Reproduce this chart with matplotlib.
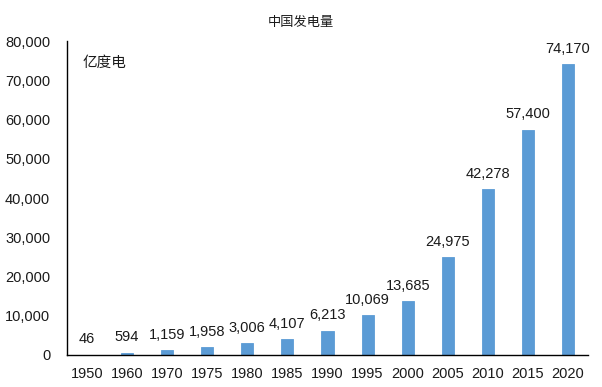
import matplotlib
matplotlib.use("Agg")
import matplotlib.pyplot as plt
from matplotlib.ticker import FuncFormatter

years = ["1950", "1960", "1970", "1975", "1980", "1985", "1990", "1995",
         "2000", "2005", "2010", "2015", "2020"]
values = [46, 594, 1159, 1958, 3006, 4107, 6213, 10069, 13685, 24975,
          42278, 57400, 74170]

plt.rcParams['font.family'] = ['Liberation Sans', 'Noto Sans CJK SC', 'DejaVu Sans']

fig = plt.figure(figsize=(6.02, 3.87), dpi=100)
ax = fig.add_axes([0.111, 0.0827, 0.866, 0.811])

x = list(range(len(years)))
ax.bar(x, values, width=0.3, color="#5B9BD5", edgecolor="#5B9BD5", linewidth=0.6)
for xi, v in zip(x, values):
    ax.annotate(f"{v:,}", (xi, v), xytext=(0, 6), textcoords="offset points",
                ha="center", va="bottom", fontsize=10.5, color="#1a1a1a")

ax.set_xlim(-0.5, len(years) - 0.5)
ax.set_ylim(0, 80000)
ax.set_yticks(range(0, 80001, 10000))
ax.yaxis.set_major_formatter(FuncFormatter(lambda v, p: f"{int(v):,}"))
ax.set_xticks(x)
ax.set_xticklabels(years)
ax.tick_params(axis="both", length=0, labelsize=10.5, colors="#1a1a1a")
ax.tick_params(axis="x", pad=9)
ax.tick_params(axis="y", pad=12)
for s in ["top", "right"]:
    ax.spines[s].set_visible(False)
for s in ["left", "bottom"]:
    ax.spines[s].set_color("#000000")
    ax.spines[s].set_linewidth(1.0)

ax.text(0.03, 0.93, "亿度电", transform=ax.transAxes, family=['Noto Sans CJK SC', 'DejaVu Sans'],
        fontsize=10.5, ha="left", va="center", color="#1a1a1a")
fig.text(0.5, 0.943, "中国发电量", family=['Noto Sans CJK SC', 'DejaVu Sans'],
         fontsize=9.5, ha="center", va="center", color="#1a1a1a")

fig.savefig("out.png", dpi=100)
